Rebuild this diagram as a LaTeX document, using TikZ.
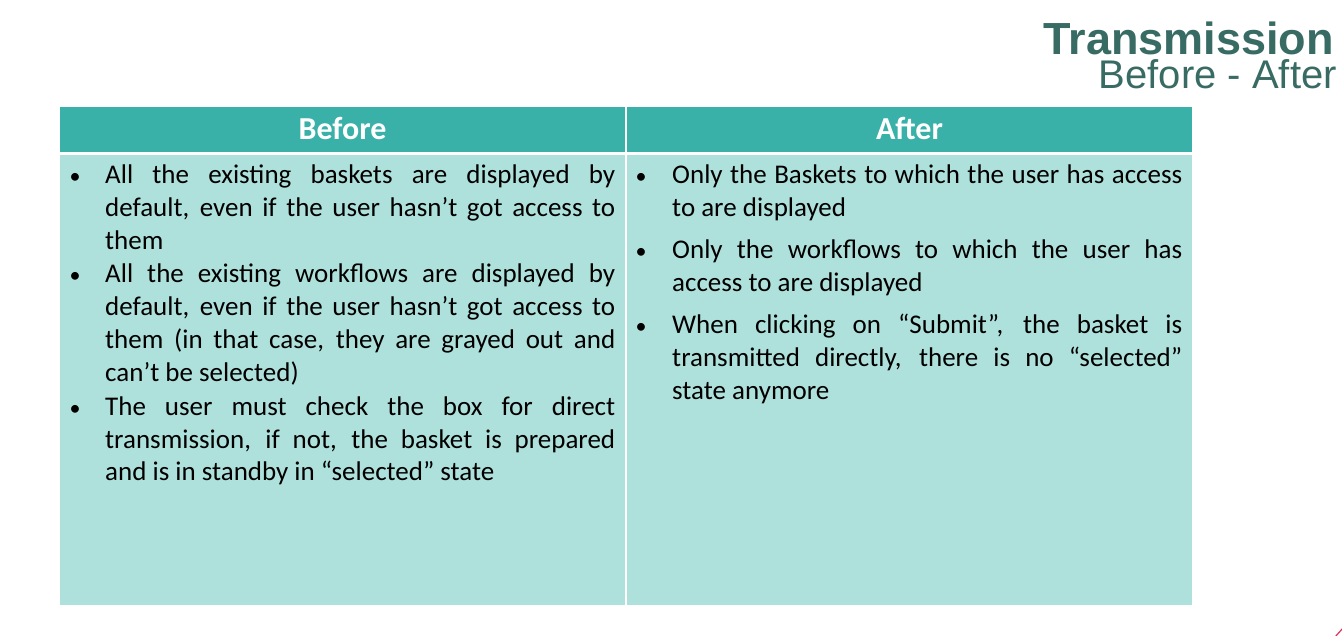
\documentclass[tikz,border=0pt]{standalone}
\usepackage{fontspec}
\setmainfont{Carlito}
\newfontfamily\titlefont{Liberation Sans}
\usepackage{xcolor}
\usepackage{tikz}

\definecolor{headteal}{HTML}{3AB1A8}
\definecolor{bodyteal}{HTML}{AFE1DC}
\definecolor{titleteal}{HTML}{386B63}
\definecolor{cornerred}{HTML}{E5305A}

\tikzset{
  dot/.style={inner sep=0pt, anchor=base, font=\fontsize{22}{33}\selectfont},
  item/.style={inner sep=0pt, anchor=base west, text width=510pt, align=justify,
    font=\fontsize{27}{33}\selectfont,
    execute at begin node={\hyphenpenalty=10000\tolerance=9999\emergencystretch=4em}},
  head/.style={white, inner sep=0pt, anchor=base, font=\fontsize{32}{34}\selectfont\bfseries},
}

\begin{document}
\begin{tikzpicture}[x=1pt, y=-1pt]
    \useasboundingbox (0,0) rectangle (1342,636);
    % title
    \node[titleteal, anchor=base east, inner sep=0pt, text height=32pt, text depth=0pt, font=\titlefont\fontsize{45}{45}\selectfont\bfseries] (title) at (1334,55) {Transmission};
    \node[titleteal, anchor=base east, inner sep=0pt, text height=29pt, text depth=0pt, font=\titlefont\fontsize{40}{40}\selectfont] (subtitle) at (1337,89) {Before - After};
    % table cells
    \fill[headteal] (60,107) rectangle (625,152);
    \fill[headteal] (627,107) rectangle (1192,152);
    \fill[bodyteal] (60,155) rectangle (625,605);
    \fill[bodyteal] (627,155) rectangle (1192,605);
    \node[head] (before) at (342.5,140) {Before};
    \node[head] (after) at (909.5,140) {After};
    % left column
    \node[dot] (bdot1) at (75,184) {•};
    \node[item] (bitem1) at (105,184) {All the existing baskets are displayed by\linebreak default, even if the user hasn’t got access to\linebreak them};
    \node[dot] (bdot2) at (75,283) {•};
    \node[item] (bitem2) at (105,283) {All the existing workflows are displayed by\linebreak default, even if the user hasn’t got access to\linebreak them (in that case, they are grayed out and\linebreak can’t be selected)};
    \node[dot] (bdot3) at (75,415) {•};
    \node[item] (bitem3) at (105,415) {The user must check the box for direct\linebreak transmission, if not, the basket is prepared\linebreak and is in standby in “selected” state};
    % right column
    \node[dot] (adot1) at (641,184) {•};
    \node[item] (aitem1) at (672,184) {Only the Baskets to which the user has access\linebreak to are displayed};
    \node[dot] (adot2) at (641,259) {•};
    \node[item] (aitem2) at (672,259) {Only the workflows to which the user has\linebreak access to are displayed};
    \node[dot] (adot3) at (641,334) {•};
    \node[item] (aitem3) at (672,334) {When clicking on “Submit”, the basket is\linebreak transmitted directly, there is no “selected”\linebreak state anymore};
    % corner mark
    \draw[cornerred, line width=1.2pt] (1335,637) -- (1343,628);
\end{tikzpicture}
\end{document}
